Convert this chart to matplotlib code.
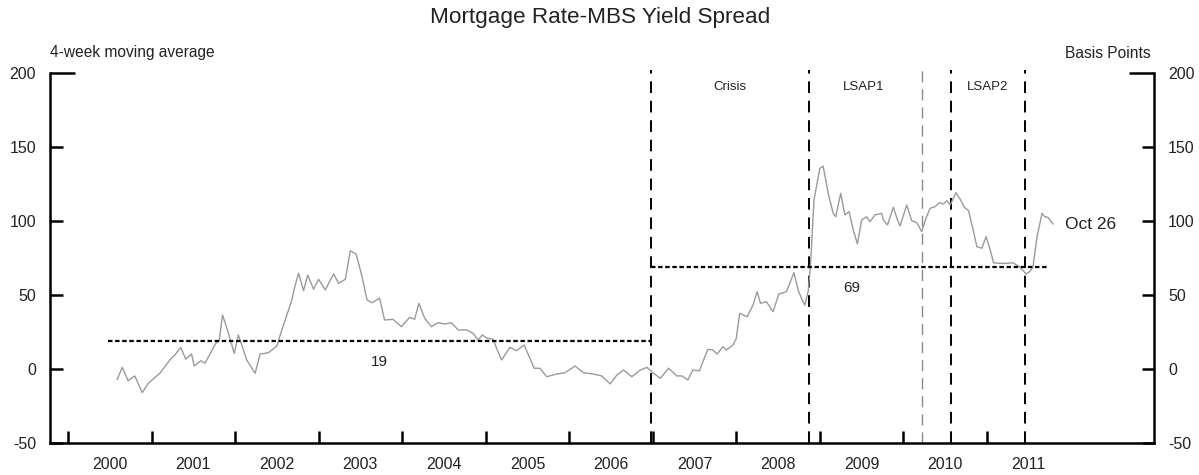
import matplotlib
matplotlib.use("Agg")
import matplotlib.pyplot as plt

plt.rcParams['font.family'] = ['Liberation Sans', 'DejaVu Sans']

# ---- data (fractional year, basis points) ----
dates = [2000.59, 2000.65, 2000.72, 2000.80, 2000.89, 2000.96, 2001.10, 2001.22, 2001.28, 2001.35,
         2001.41, 2001.48, 2001.51, 2001.59, 2001.64, 2001.77, 2001.81, 2001.85, 2001.91, 2001.99,
         2002.04, 2002.14, 2002.24, 2002.30, 2002.40, 2002.50, 2002.56, 2002.62, 2002.68, 2002.71,
         2002.76, 2002.82, 2002.87, 2002.94, 2003.00, 2003.08, 2003.18, 2003.24, 2003.32, 2003.38,
         2003.45, 2003.52, 2003.58, 2003.64, 2003.73, 2003.79, 2003.89, 2003.99, 2004.09, 2004.15,
         2004.20, 2004.27, 2004.35, 2004.43, 2004.51, 2004.59, 2004.67, 2004.77, 2004.85, 2004.91,
         2004.96, 2005.02, 2005.09, 2005.13, 2005.19, 2005.29, 2005.37, 2005.46, 2005.53, 2005.58,
         2005.65, 2005.73, 2005.85, 2005.95, 2006.07, 2006.17, 2006.29, 2006.39, 2006.49, 2006.57,
         2006.65, 2006.75, 2006.85, 2006.93, 2007.01, 2007.09, 2007.19, 2007.29, 2007.35, 2007.42,
         2007.48, 2007.56, 2007.60, 2007.66, 2007.72, 2007.77, 2007.84, 2007.88, 2007.96, 2008.00,
         2008.04, 2008.13, 2008.20, 2008.25, 2008.29, 2008.36, 2008.44, 2008.51, 2008.60, 2008.69,
         2008.74, 2008.78, 2008.82, 2008.86, 2008.89, 2008.93, 2009.00, 2009.04, 2009.10, 2009.16,
         2009.19, 2009.25, 2009.30, 2009.35, 2009.40, 2009.45, 2009.50, 2009.56, 2009.60, 2009.66,
         2009.74, 2009.76, 2009.81, 2009.88, 2009.93, 2009.96, 2010.04, 2010.10, 2010.16, 2010.22,
         2010.27, 2010.32, 2010.38, 2010.43, 2010.48, 2010.52, 2010.56, 2010.63, 2010.68, 2010.73,
         2010.78, 2010.84, 2010.88, 2010.94, 2010.99, 2011.04, 2011.08, 2011.15, 2011.23, 2011.31,
         2011.39, 2011.47, 2011.51, 2011.55, 2011.60, 2011.66, 2011.69, 2011.73, 2011.79]
spread = [-7.0, 1.1, -7.9, -4.7, -16.0, -9.7, -2.9, 6.1, 9.5, 14.6,
          6.6, 10.1, 2.0, 5.6, 3.9, 17.4, 19.1, 36.5, 26.4, 10.6,
          23.0, 6.1, -2.9, 10.1, 11.0, 15.5, 26.4, 36.5, 46.6, 54.5,
          64.7, 52.9, 63.5, 53.9, 60.6, 53.4, 64.2, 57.9, 60.6, 79.9,
          77.7, 62.4, 46.6, 44.8, 47.8, 33.1, 33.6, 28.6, 34.9, 33.6,
          44.4, 34.3, 28.6, 31.3, 30.4, 31.3, 26.4, 26.4, 24.1, 19.6,
          23.0, 20.7, 20.1, 14.0, 6.1, 14.6, 12.4, 16.2, 7.2, 0.5,
          0.5, -5.2, -3.4, -2.5, 2.0, -2.5, -3.4, -4.7, -10.1, -4.1,
          -0.7, -5.2, -0.7, 1.1, -2.9, -6.3, 0.5, -4.7, -4.7, -7.4,
          -0.7, -1.2, 4.9, 13.3, 12.8, 10.1, 15.1, 12.8, 16.2, 20.7,
          37.6, 35.3, 43.2, 52.2, 44.4, 45.5, 38.7, 50.7, 52.2, 65.1,
          53.4, 47.8, 43.2, 52.2, 71.4, 114.2, 135.6, 137.0, 118.7, 105.2,
          102.9, 118.7, 104.1, 106.3, 93.9, 84.5, 100.7, 102.9, 99.5, 104.1,
          105.2, 100.7, 97.3, 109.3, 100.7, 96.6, 110.8, 100.2, 98.9, 92.8,
          101.8, 108.6, 109.7, 112.4, 111.5, 113.7, 110.8, 119.1, 114.7, 109.3,
          107.0, 92.8, 82.6, 81.6, 89.4, 80.4, 71.8, 71.4, 71.4, 71.8,
          69.1, 64.2, 65.7, 68.7, 89.4, 105.2, 102.9, 102.5, 98.0]

avg_levels = [19, 69]
avg_starts = [2000.48, 2006.98]
avg_ends = [2006.98, 2011.74]

event_dates = [2006.98, 2008.875, 2010.22, 2010.57, 2011.46]
period_labels = ["Crisis", "LSAP1", "LSAP2"]
period_label_x = [2007.92, 2009.53, 2011.01]

years = list(range(2000, 2012))
year_labels = [str(y) for y in years]
yticks = [-50, 0, 50, 100, 150]

# ---- figure ----
fig = plt.figure(figsize=(11.99, 4.75), dpi=100)
W, H = 1199, 475
ax = fig.add_axes([50 / W, 32 / H, (1154 - 50) / W, (443 - 73) / H])
ax.set_xlim(1999.785, 2013.0)
ax.set_ylim(-50, 200)

ax.plot(dates, spread, color='#9a9a9a', lw=1.0, zorder=3)

for lvl, s, e in zip(avg_levels, avg_starts, avg_ends):
    ax.plot([s, e], [lvl, lvl], color='black', lw=1.6, linestyle=(0, (2, 1.2)), zorder=4)

for i, d in enumerate(event_dates):
    if i == 2:
        ax.plot([d, d], [-50, 202], color='#8a8a8a', lw=1.0, linestyle=(0, (8, 5)),
                clip_on=False, zorder=2)
    else:
        ax.plot([d, d], [-50, 202], color='black', lw=1.4, linestyle=(0, (6, 4)),
                clip_on=False, zorder=2)

for lab, x in zip(period_labels, period_label_x):
    ax.text(x, 190.5, lab, ha='center', va='center', fontsize=9.5, color='#222222')

ax.text(2003.73, 4.7, "19", ha='center', va='center', fontsize=11, color='#222222')
ax.text(2009.38, 54.7, "69", ha='center', va='center', fontsize=11, color='#222222')
ax.text(2011.93, 97.3, "Oct 26", ha='left', va='center', fontsize=12.5, color='#222222')

# spines
ax.spines['top'].set_visible(False)
for s in ['left', 'right', 'bottom']:
    ax.spines[s].set_linewidth(1.8)
    ax.spines[s].set_color('black')

# y ticks
ax.set_yticks(yticks)
ax.set_yticklabels([str(v) for v in yticks])
ax.set_yticks([200], minor=True)
ax.set_yticklabels(['200'], minor=True)
ax.tick_params(axis='y', which='major', direction='in', length=9, width=1.8,
               left=True, right=True, labelleft=True, labelright=True,
               labelsize=11.5, pad=10, labelcolor='#222222')
ax.tick_params(axis='y', which='minor', direction='in', length=18, width=1.8,
               left=True, right=True, labelleft=True, labelright=True,
               labelsize=11.5, pad=10, labelcolor='#222222')

# x ticks
ax.set_xticks(years)
ax.set_xticklabels([''] * len(years))
ax.set_xticks([y + 0.5 for y in years], minor=True)
ax.set_xticklabels(year_labels, minor=True)
ax.tick_params(axis='x', which='major', direction='in', length=8.5, width=1.8,
               bottom=True, top=False)
ax.tick_params(axis='x', which='minor', length=0, labelsize=11.5, pad=10,
               labelcolor='#222222')

fig.text(600 / W, 1 - 18 / H, "Mortgage Rate-MBS Yield Spread", ha='center', va='center',
         fontsize=16.2, color='#222222')
fig.text(50 / W, 1 - 53 / H, "4-week moving average", ha='left', va='center',
         fontsize=11.2, color='#222222')
fig.text(1151 / W, 1 - 53 / H, "Basis Points", ha='right', va='center',
         fontsize=11.2, color='#222222')

fig.savefig("out.png", dpi=100)
